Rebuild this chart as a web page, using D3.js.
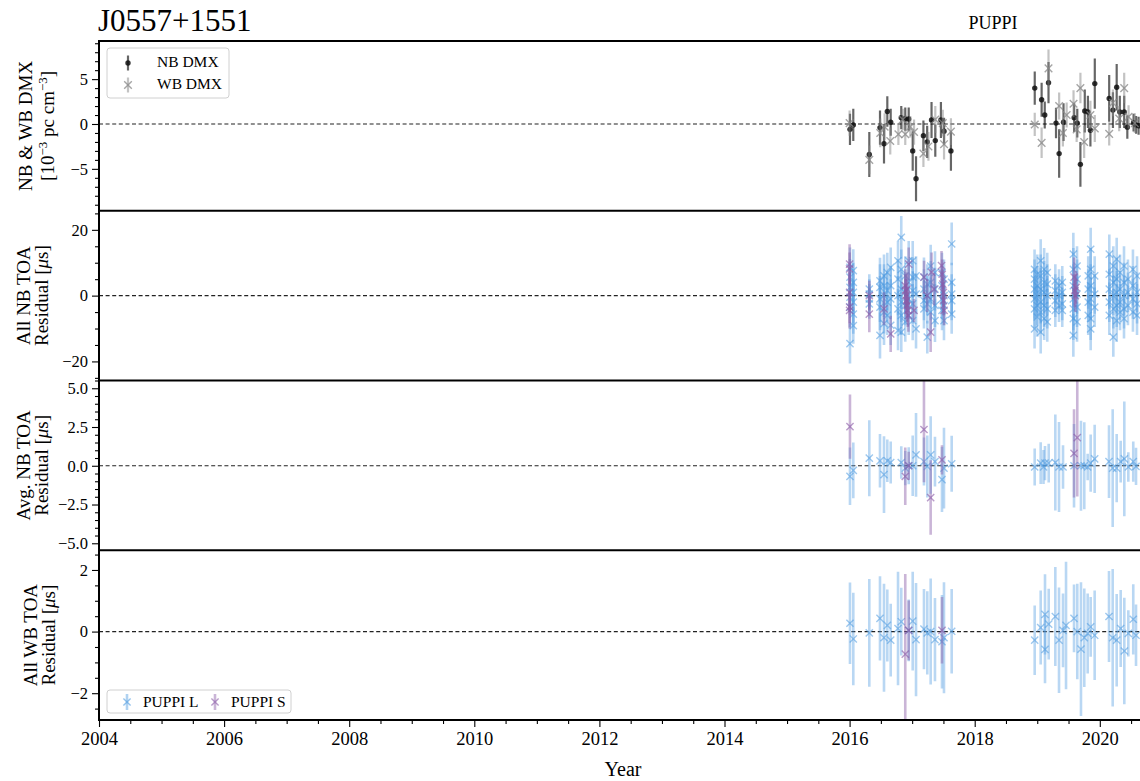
<!DOCTYPE html>
<html><head><meta charset="utf-8">
<script src="https://cdn.jsdelivr.net/npm/d3@7"></script>
<style>
html,body{margin:0;padding:0;background:#fff;}
svg text{font-family:"Liberation Serif","Times New Roman",serif;fill:#000;}
</style></head>
<body><svg id="chart" width="1140" height="781"></svg>
<script>
// ---------------- data ----------------
const pulsarName = "J0557+1551";
const backendLabel = "PUPPI";
const xTickYears = [2004, 2006, 2008, 2010, 2012, 2014, 2016, 2018, 2020];
// [year, DMX (1e-3 pc cm^-3), error]
const nbDmx = [
 [2016.006,-0.6,1.75],[2016.059,-0.1,1.8],[2016.315,-3.4,2.5],[2016.486,-0.4,1.9],[2016.550,-2.2,2.2],
 [2016.603,1.4,1.7],[2016.657,0.2,1.5],[2016.826,0.7,1.3],[2016.890,0.55,1.3],[2016.945,0.55,1.3],
 [2017.009,-3.0,2.2],[2017.062,-6.1,2.5],[2017.180,-1.3,1.7],[2017.240,-2.0,1.8],[2017.310,0.45,2.0],
 [2017.370,-1.85,1.8],[2017.460,0.45,2.0],[2017.510,-0.8,1.5],[2017.620,-3.0,2.2],
 [2018.960,4.0,1.85],[2019.070,2.7,1.9],[2019.120,1.0,1.5],[2019.180,4.6,2.3],[2019.300,0.1,1.7],
 [2019.350,-3.3,2.7],[2019.420,0.2,2.1],[2019.590,0.7,1.6],[2019.640,0.1,1.6],[2019.690,-4.5,2.5],
 [2019.760,1.45,2.4],[2019.810,1.35,1.8],[2019.850,-0.7,1.8],[2019.920,4.5,2.8],[2020.150,2.85,2.6],
 [2020.210,1.55,2.0],[2020.270,4.1,2.6],[2020.320,1.35,1.8],[2020.390,1.35,1.8],[2020.440,-0.35,1.3],
 [2020.540,0.15,1.0],[2020.580,-0.1,1.0],[2020.620,-0.2,1.0]
];
const wbDmx = [
 [2016.000,0.1,1.4],[2016.315,-4.0,1.6],[2016.490,-1.0,1.6],[2016.560,-0.3,1.5],[2016.650,-1.9,1.5],
 [2016.780,-1.15,1.2],[2016.850,0.5,1.2],[2016.890,-1.15,1.2],[2016.970,-0.3,1.2],[2017.030,-0.9,1.4],
 [2017.180,-3.3,1.5],[2017.260,-2.5,1.6],[2017.370,0.5,1.5],[2017.490,0.1,1.5],[2017.510,-2.25,1.7],
 [2017.620,-0.85,1.5],
 [2018.960,-0.05,1.3],[2019.070,-2.1,1.7],[2019.180,6.2,2.1],[2019.350,2.0,1.5],[2019.410,-1.0,1.5],
 [2019.470,1.0,1.4],[2019.580,2.25,1.5],[2019.630,-0.6,1.4],[2019.690,4.0,1.7],[2019.750,-2.0,1.8],
 [2019.850,1.0,1.6],[2019.920,-0.5,1.5],[2020.150,-1.1,1.3],[2020.210,2.35,1.5],[2020.310,0.6,1.4],
 [2020.390,4.0,1.7],[2020.460,0.8,1.3],[2020.560,0.1,1.1]
];
// [year, residual (us), error] all narrowband TOAs
const nbToaL = [
 [2016.006,8.6,6],[2016.006,5.6,5.5],[2016.006,2.5,6],[2016.006,-0.5,5.5],[2016.006,-3.5,6],[2016.006,-14.6,6],
 [2016.059,7.6,6.5],[2016.059,4.0,6],[2016.059,1.0,6],[2016.059,-2.0,6.5],[2016.059,-5.6,6],[2016.059,-9.1,5.5],
 [2016.315,2.0,4.5],[2016.315,0.5,4.5],[2016.315,-1.0,4.5],[2016.315,-2.5,4.5],
 [2016.486,4.5,7],[2016.486,2.5,7],[2016.486,-1.0,7],[2016.486,-3.5,7],[2016.486,-12.1,7],
 [2016.550,6.0,6.5],[2016.550,3.0,6.5],[2016.550,0.0,6.5],[2016.550,-5.0,6.5],[2016.550,-8.5,6.5],
 [2016.603,7.0,6],[2016.603,1.5,6],[2016.603,-2.0,6],[2016.603,-6.0,6],
 [2016.657,8.6,6],[2016.657,3.0,6],[2016.657,-1.0,6],[2016.657,-9.0,6],
 [2016.774,10.6,6],[2016.774,5.0,6],[2016.774,0.0,6],[2016.774,-4.0,6],[2016.774,-10.6,6],
 [2016.826,17.7,6.5],[2016.826,8.0,6],[2016.826,2.0,6],[2016.826,-2.0,6],[2016.826,-6.0,6],[2016.826,-11.1,6],
 [2016.890,6.0,6],[2016.890,1.0,6],[2016.890,-3.0,6],[2016.890,-8.0,6],
 [2016.945,10.6,6],[2016.945,4.0,6],[2016.945,-1.0,6],[2016.945,-6.0,6],
 [2017.009,10.6,6],[2017.009,5.6,6],[2017.009,1.5,6],[2017.009,-2.5,6],[2017.009,-7.6,6],
 [2017.062,6.0,6],[2017.062,0.5,6],[2017.062,-10.1,6],
 [2017.189,5.6,6],[2017.189,2.0,6],[2017.189,-1.5,6],[2017.189,-4.0,6],
 [2017.242,3.5,6],[2017.242,0.0,6],[2017.242,-2.5,6],[2017.242,-12.6,5],
 [2017.296,9.0,6.5],[2017.296,4.0,6.5],[2017.296,-1.0,6.5],[2017.296,-5.0,6.5],
 [2017.365,7.0,6.5],[2017.365,2.0,6.5],[2017.365,-3.0,6.5],[2017.365,-7.6,6.5],
 [2017.477,7.0,6],[2017.477,3.0,6],[2017.477,-1.0,6],[2017.477,-4.5,6],
 [2017.509,5.0,6],[2017.509,0.0,6],[2017.509,-3.0,6],[2017.509,-7.6,6],
 [2017.632,15.7,6.5],[2017.632,4.0,6],[2017.632,0.5,6],[2017.632,-1.5,6],[2017.632,-5.6,6],
 [2018.957,8.0,6],[2018.957,5.0,6],[2018.957,2.0,6],[2018.957,-1.0,6],[2018.957,-4.0,6],[2018.957,-10.1,6],
 [2019.000,6.5,6],[2019.000,3.0,6],[2019.000,0.0,6],[2019.000,-3.0,6],[2019.000,-6.5,6],
 [2019.055,10.6,6.5],[2019.055,6.0,6.5],[2019.055,2.0,6.5],[2019.055,-2.0,6.5],[2019.055,-5.0,6.5],[2019.055,-11.1,6.5],
 [2019.110,8.0,6.5],[2019.110,4.0,6.5],[2019.110,1.0,6.5],[2019.110,-3.0,6.5],[2019.110,-7.0,6.5],
 [2019.160,7.0,6],[2019.160,3.5,6],[2019.160,0.0,6],[2019.160,-4.0,6],[2019.160,-8.0,6],
 [2019.289,4.5,5],[2019.289,1.5,5],[2019.289,-1.5,5],[2019.289,-4.5,5],
 [2019.348,3.0,5],[2019.348,0.0,5],[2019.348,-3.0,5],
 [2019.400,4.0,5],[2019.400,1.0,5],[2019.400,-2.5,5],[2019.400,-4.5,5],
 [2019.577,12.6,6.5],[2019.577,8.0,6.5],[2019.577,3.0,6.5],[2019.577,-1.0,6.5],[2019.577,-4.0,6.5],[2019.577,-7.0,6.5],[2019.577,-12.1,6.5],
 [2019.636,9.0,6],[2019.636,5.0,6],[2019.636,0.5,6],[2019.636,-3.5,6],[2019.636,-8.0,6],
 [2019.815,6.0,6],[2019.815,2.0,6],[2019.815,-2.0,6],[2019.815,-6.0,6],
 [2019.854,14.1,6.5],[2019.854,8.0,6.5],[2019.854,3.0,6.5],[2019.854,-1.0,6.5],[2019.854,-7.0,6.5],[2019.854,-10.1,6.5],
 [2019.918,6.0,6],[2019.918,0.5,6],[2019.918,-3.5,6],
 [2020.152,12.6,6],[2020.152,6.5,6],[2020.152,2.0,6],[2020.152,-2.0,6],[2020.152,-6.0,6],
 [2020.216,9.0,6],[2020.216,4.0,6],[2020.216,0.0,6],[2020.216,-4.0,6],[2020.216,-12.6,6],
 [2020.270,11.1,6.5],[2020.270,5.0,6.5],[2020.270,1.0,6.5],[2020.270,-3.0,6.5],[2020.270,-7.6,6.5],
 [2020.323,7.0,5.5],[2020.323,2.0,5.5],[2020.323,-2.0,5.5],[2020.323,-5.0,5.5],
 [2020.387,9.0,6],[2020.387,4.0,6],[2020.387,0.0,6],[2020.387,-4.0,6],[2020.387,-7.0,6],
 [2020.450,5.0,6],[2020.450,1.0,6],[2020.450,-3.0,6],
 [2020.530,8.0,6],[2020.530,3.0,6],[2020.530,-1.0,6],[2020.530,-5.0,6],
 [2020.595,6.0,6],[2020.595,1.0,6],[2020.595,-2.5,6],[2020.595,-6.0,6]
];
const nbToaS = [
 [2016.000,9.6,6],[2016.000,8.1,5],[2016.000,1.0,6],[2016.000,-3.5,5],[2016.000,-4.5,5.5],
 [2016.315,0.0,4.5],[2016.315,-5.6,5.5],
 [2016.550,-4.0,5],[2016.657,-11.6,5.5],
 [2016.890,3.0,5],[2016.895,1.5,5],[2016.900,0.0,5],[2016.910,-1.5,5],[2016.920,-3.0,5],
 [2016.930,-4.5,5],[2016.940,-6.0,5],[2016.945,9.6,5],[2016.920,2.0,5],[2017.030,-4.5,3.5],
 [2017.190,5.6,5],[2017.240,0.0,5],[2017.296,-11.1,6],[2017.310,7.1,6],[2017.350,2.0,5],
 [2017.470,9.1,4.5],[2017.480,6.5,4.5],[2017.490,3.5,4.5],[2017.500,1.0,4.5],[2017.500,-1.5,4.5],[2017.510,-4.5,4.5],
 [2019.590,5.6,6],[2019.600,1.5,5],[2019.610,0.0,5],[2019.620,2.5,5]
];
// epoch-averaged narrowband residuals
const avgToaL = [
 [2016.006,-0.68,1.85],[2016.059,-0.3,1.8],[2016.315,0.49,2.45],[2016.486,0.32,1.73],[2016.550,-0.57,2.47],
 [2016.603,0.32,1.37],[2016.657,0.21,1.35],[2016.826,0.21,1.05],[2016.890,-0.15,1.1],[2016.945,0.0,1.2],
 [2017.009,0.0,1.95],[2017.062,0.7,2.7],[2017.189,0.27,1.55],[2017.242,-0.04,2.0],[2017.296,0.7,2.5],
 [2017.365,0.27,1.6],[2017.477,-0.89,2.1],[2017.509,-0.15,2.6],[2017.632,0.13,1.8],
 [2018.959,-0.08,1.2],[2019.055,0.17,1.35],[2019.100,-0.08,1.1],[2019.124,0.17,1.1],[2019.183,0.17,1.25],
 [2019.289,0.21,3.1],[2019.348,-0.08,2.9],[2019.412,-0.08,1.4],[2019.588,0.0,2.7],[2019.699,0.0,2.9],
 [2019.752,0.0,2.8],[2019.806,-0.08,0.85],[2019.854,0.17,1.85],[2019.918,0.44,2.2],[2020.147,0.27,2.35],
 [2020.206,-0.15,3.8],[2020.270,-0.15,2.2],[2020.334,0.27,1.35],[2020.392,0.44,3.7],[2020.456,-0.08,0.95],
 [2020.535,0.27,1.3],[2020.579,-0.04,1.2]
];
const avgToaS = [
 [2016.006,2.53,2.07],[2016.890,-0.68,1.85],[2016.945,0.0,0.9],[2017.189,2.34,3.4],[2017.296,-2.05,2.4],
 [2017.477,0.38,0.95],[2019.588,0.8,2.85],[2019.640,1.81,3.8]
];
// wideband residuals
const wbToaL = [
 [2016.006,0.27,1.32],[2016.059,-0.24,1.5],[2016.315,-0.04,1.75],[2016.486,0.43,1.37],[2016.550,-0.2,1.75],
 [2016.603,0.2,1.17],[2016.657,-0.28,1.18],[2016.774,0.1,1.84],[2016.826,0.32,1.1],[2016.945,0.04,1.0],
 [2017.009,0.34,1.6],[2017.062,-0.26,1.84],[2017.189,0.08,1.3],[2017.242,-0.04,1.35],[2017.296,0.0,1.72],
 [2017.365,-0.26,1.35],[2017.477,-0.33,1.52],[2017.509,-0.2,1.8],[2017.632,0.01,1.37],
 [2018.959,-0.28,1.13],[2019.055,0.13,1.2],[2019.124,0.56,1.3],[2019.124,-0.58,1.1],[2019.183,0.24,1.15],
 [2019.289,0.49,1.61],[2019.348,-0.28,1.71],[2019.412,0.04,1.2],[2019.460,0.2,2.07],[2019.588,0.43,1.1],
 [2019.640,0.0,1.55],[2019.699,-0.57,2.17],[2019.752,-0.2,1.6],[2019.806,-0.06,1.3],[2019.854,0.15,0.97],
 [2019.918,-0.12,1.45],[2020.147,0.49,1.48],[2020.206,-0.2,2.23],[2020.270,-0.28,1.5],[2020.334,0.1,1.25],
 [2020.392,-0.63,1.73],[2020.456,-0.06,0.75],[2020.535,0.4,1.14],[2020.579,-0.12,1.0]
];
const wbToaS = [
 [2016.890,-0.73,2.6],[2016.945,0.04,0.97],[2017.477,0.04,1.08]
];

// ---------------- layout ----------------
const svg = d3.select("#chart");
svg.append("rect").attr("width",1140).attr("height",781).attr("fill","#fff");
const left = 99, right = 1141;
const x = d3.scaleLinear().domain([2004, 2004 + (right-left)/62.55]).range([left, right]);
const blue = "#4f9be0", purple = "#8a5aa6";

const panels = [
 {top:41, bottom:210.75, dom:[-9.67,9.25], ticks:[-5,0,5], minor:1, fmt:d3.format("d"),
  lab1:"NB & WB DMX", lab2:"dmx", b1:32, b2:54},
 {top:210.75, bottom:380.5, dom:[-25.8,25.8], ticks:[-20,0,20], minor:5, fmt:d3.format("d"),
  lab1:"All NB TOA", lab2:"res", b1:30, b2:48},
 {top:380.5, bottom:550.25, dom:[-5.45,5.5], ticks:[-5,-2.5,0,2.5,5], minor:0.5, fmt:d3.format(".1f"),
  lab1:"Avg. NB TOA", lab2:"res", b1:30, b2:48},
 {top:550.25, bottom:720, dom:[-2.87,2.64], ticks:[-2,0,2], minor:0.5, fmt:d3.format("d"),
  lab1:"All WB TOA", lab2:"res", b1:37, b2:55}
];

function xMark(g, cx, cy, s, color, op, w){
  g.append("path").attr("d",`M${cx-s},${cy-s}L${cx+s},${cy+s}M${cx-s},${cy+s}L${cx+s},${cy-s}`)
   .attr("stroke",color).attr("stroke-opacity",op).attr("stroke-width",w).attr("fill","none");
}
function errSeries(g, data, y, color, barOp, barW, marker){
  const gg = g.append("g");
  gg.selectAll("line").data(data).join("line")
    .attr("x1",d=>x(d[0])).attr("x2",d=>x(d[0]))
    .attr("y1",d=>y(d[1]-d[2])).attr("y2",d=>y(d[1]+d[2]))
    .attr("stroke",color).attr("stroke-opacity",barOp).attr("stroke-width",barW);
  data.forEach(d=>{
    if(marker.type==="x") xMark(gg, x(d[0]), y(d[1]), marker.s, marker.color, marker.op, marker.w);
    else gg.append("circle").attr("cx",x(d[0])).attr("cy",y(d[1])).attr("r",marker.r)
        .attr("fill",marker.color).attr("fill-opacity",marker.op);
  });
}

panels.forEach((p,i)=>{
  const y = d3.scaleLinear().domain(p.dom).range([p.bottom, p.top]);
  p.y = y;
  const clipId = "clip"+i;
  svg.append("clipPath").attr("id",clipId).append("rect")
     .attr("x",left).attr("y",p.top).attr("width",right-left).attr("height",p.bottom-p.top);
  const g = svg.append("g").attr("clip-path",`url(#${clipId})`);
  g.append("line").attr("x1",left).attr("x2",right).attr("y1",y(0)).attr("y2",y(0))
   .attr("stroke","#222").attr("stroke-width",1.2).attr("stroke-dasharray","4,2.6");
  if(i===0){
    errSeries(g, nbDmx, y, "#000", 0.6, 2.2, {type:"o", r:2.7, color:"#111", op:0.85});
    errSeries(g, wbDmx, y, "#888", 0.5, 2.2, {type:"x", s:3.8, color:"#888", op:0.75, w:1.4});
  } else {
    const L = i===1?nbToaL : i===2?avgToaL : wbToaL;
    const S = i===1?nbToaS : i===2?avgToaS : wbToaS;
    errSeries(g, L, y, blue, 0.4, 2.6, {type:"x", s:3.6, color:blue, op:0.55, w:1.4});
    errSeries(g, S, y, purple, 0.45, 2.6, {type:"x", s:3.6, color:purple, op:0.6, w:1.4});
  }
  // y axis
  const minorVals = d3.range(Math.ceil(p.dom[0]/p.minor)*p.minor, p.dom[1]+1e-9, p.minor)
      .filter(v=>!p.ticks.some(t=>Math.abs(t-v)<1e-9));
  const ax = svg.append("g").attr("transform",`translate(${left},0)`);
  ax.call(d3.axisLeft(y).tickValues(minorVals).tickSize(4).tickFormat(""));
  ax.call(g2=>g2.select(".domain").remove());
  const ax2 = svg.append("g").attr("transform",`translate(${left},0)`);
  ax2.call(d3.axisLeft(y).tickValues(p.ticks).tickSize(7).tickPadding(4).tickFormat(p.fmt));
  ax2.select(".domain").remove();
  [ax,ax2].forEach(a=>a.selectAll(".tick line").attr("stroke","#000").attr("stroke-width",1.1));
  ax2.selectAll(".tick text").attr("font-family","Liberation Serif").attr("font-size",16.5).attr("fill","#000");
  // y labels
  const cy = (p.top+p.bottom)/2;
  svg.append("text").attr("transform",`translate(${p.b1},${cy}) rotate(-90)`)
     .attr("text-anchor","middle").attr("font-size",19).text(p.lab1);
  const t2 = svg.append("text").attr("transform",`translate(${p.b2},${cy}) rotate(-90)`)
     .attr("text-anchor","middle").attr("font-size",19);
  if(p.lab2==="dmx"){
    t2.append("tspan").text("[10");
    t2.append("tspan").attr("dy",-7).attr("font-size",13).text("−3");
    t2.append("tspan").attr("dy",7).text(" pc cm");
    t2.append("tspan").attr("dy",-7).attr("font-size",13).text("−3");
    t2.append("tspan").attr("dy",7).text("]");
  } else {
    t2.append("tspan").text("Residual [");
    t2.append("tspan").attr("font-style","italic").text("μ");
    t2.append("tspan").text("s]");
  }
});

// frame lines (right spine lies just outside the picture)
const frame = svg.append("g").attr("stroke","#000").attr("stroke-width",2);
frame.append("line").attr("x1",left).attr("x2",right).attr("y1",41).attr("y2",41);
panels.forEach(p=>frame.append("line").attr("x1",left).attr("x2",right).attr("y1",p.bottom).attr("y2",p.bottom));
frame.append("line").attr("x1",left).attr("x2",left).attr("y1",40).attr("y2",721);

// x axis
const xa = svg.append("g").attr("transform","translate(0,720)");
const xMinor = d3.range(2004, 2020.7, 0.5).filter(v=>v%2!==0);
xa.call(d3.axisBottom(x).tickValues(xMinor).tickSize(4).tickFormat(""));
xa.select(".domain").remove();
const xa2 = svg.append("g").attr("transform","translate(0,720)");
xa2.call(d3.axisBottom(x).tickValues(xTickYears).tickSize(7).tickPadding(5).tickFormat(d3.format("d")));
xa2.select(".domain").remove();
[xa,xa2].forEach(a=>a.selectAll(".tick line").attr("stroke","#000").attr("stroke-width",1.1));
xa2.selectAll(".tick text").attr("font-family","Liberation Serif").attr("font-size",18.5).attr("fill","#000");
svg.append("text").attr("x",623).attr("y",776).attr("text-anchor","middle").attr("font-size",20).text("Year");

// titles
svg.append("text").attr("x",98).attr("y",31).attr("font-size",31).text(pulsarName);
svg.append("text").attr("x",993).attr("y",29).attr("text-anchor","middle").attr("font-size",18).text(backendLabel);

// legend 1
const lg1 = svg.append("g");
lg1.append("rect").attr("x",107).attr("y",48).attr("width",122).attr("height",50).attr("rx",3)
   .attr("fill","#fff").attr("fill-opacity",0.8).attr("stroke","#d0d0d0").attr("stroke-width",1);
lg1.append("line").attr("x1",128).attr("x2",128).attr("y1",55.5).attr("y2",70.5).attr("stroke","#000").attr("stroke-opacity",0.6).attr("stroke-width",2.2);
lg1.append("circle").attr("cx",128).attr("cy",63).attr("r",2.7).attr("fill","#111").attr("fill-opacity",0.85);
lg1.append("line").attr("x1",128).attr("x2",128).attr("y1",77.5).attr("y2",92.5).attr("stroke","#888").attr("stroke-opacity",0.5).attr("stroke-width",2.2);
xMark(lg1,128,85,3.8,"#888",0.75,1.4);
lg1.append("text").attr("x",157).attr("y",67).attr("font-size",15.5).text("NB DMX");
lg1.append("text").attr("x",157).attr("y",89).attr("font-size",15.5).text("WB DMX");

// legend 2
const lg2 = svg.append("g");
lg2.append("rect").attr("x",107).attr("y",690).attr("width",184).attr("height",23).attr("rx",3)
   .attr("fill","#fff").attr("fill-opacity",0.8).attr("stroke","#d0d0d0").attr("stroke-width",1);
[[127,blue,"PUPPI L",143],[215,purple,"PUPPI S",231]].forEach(([cx,c,t,tx])=>{
  lg2.append("line").attr("x1",cx).attr("x2",cx).attr("y1",694).attr("y2",710).attr("stroke",c).attr("stroke-opacity",0.45).attr("stroke-width",2.6);
  xMark(lg2,cx,702,3.6,c,0.6,1.4);
  lg2.append("text").attr("x",tx).attr("y",707).attr("font-size",15.5).text(t);
});
</script></body></html>
